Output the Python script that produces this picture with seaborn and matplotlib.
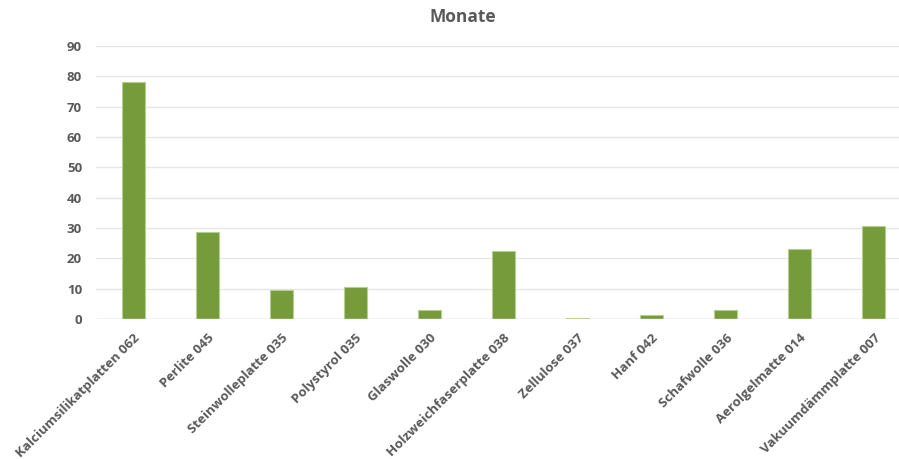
import matplotlib
matplotlib.use("Agg")
import matplotlib.pyplot as plt
import seaborn as sns
import pandas as pd

# Dämmstoffe und Werte (Monate)
materials = [
    "Kalciumsilikatplatten 062",
    "Perlite 045",
    "Steinwolleplatte 035",
    "Polystyrol 035",
    "Glaswolle 030",
    "Holzweichfaserplatte 038",
    "Zellulose 037",
    "Hanf 042",
    "Schafwolle 036",
    "Aerolgelmatte 014",
    "Vakuumdämmplatte 007",
]
months = [78.1, 28.7, 9.6, 10.6, 3.0, 22.5, 0.4, 1.4, 3.0, 23.0, 30.5]
y_ticks = [0, 10, 20, 30, 40, 50, 60, 70, 80, 90]
title = "Monate"

df = pd.DataFrame({"material": materials, "monate": months})

sns.set_theme(style="white")
plt.rcParams["font.family"] = ["Open Sans", "DejaVu Sans"]

text_color = "#595959"
bar_color = "#769b3a"

fig = plt.figure(figsize=(8.99, 4.59), dpi=100)
ax = fig.add_axes([96 / 899, 1 - 319 / 459, 1 - 96 / 899, (319 - 46) / 459])

sns.barplot(data=df, x="material", y="monate", color=bar_color,
            width=0.31, edgecolor="#b5cf8e", linewidth=0.8, ax=ax,
            saturation=1)

ax.set_ylim(0, 90)
ax.set_xlim(-0.5, 10.34)
ax.set_yticks(y_ticks)
ax.set_yticklabels([str(t) for t in y_ticks], fontsize=9.5, fontweight="bold",
                   color=text_color)
ax.set_xticks(range(len(materials)))
ax.set_xticklabels(materials, rotation=45, ha="right", rotation_mode="anchor",
                   fontsize=9.5, fontweight="bold", color=text_color)
ax.tick_params(axis="both", length=0)
ax.tick_params(axis="y", pad=10)
ax.tick_params(axis="x", pad=9)
ax.set_xlabel("")
ax.set_ylabel("")

for s in ax.spines.values():
    s.set_visible(False)
ax.yaxis.grid(True, color="#e6e6e6", linewidth=1)
ax.set_axisbelow(True)
ax.axhline(0, color="#d9d9d9", linewidth=1, zorder=1)

fig.text(463 / 899, 1 - 17 / 459, title, ha="center", va="center",
         fontsize=12.5, fontweight="bold", color=text_color)

fig.savefig("out.png", dpi=100, facecolor="white")
